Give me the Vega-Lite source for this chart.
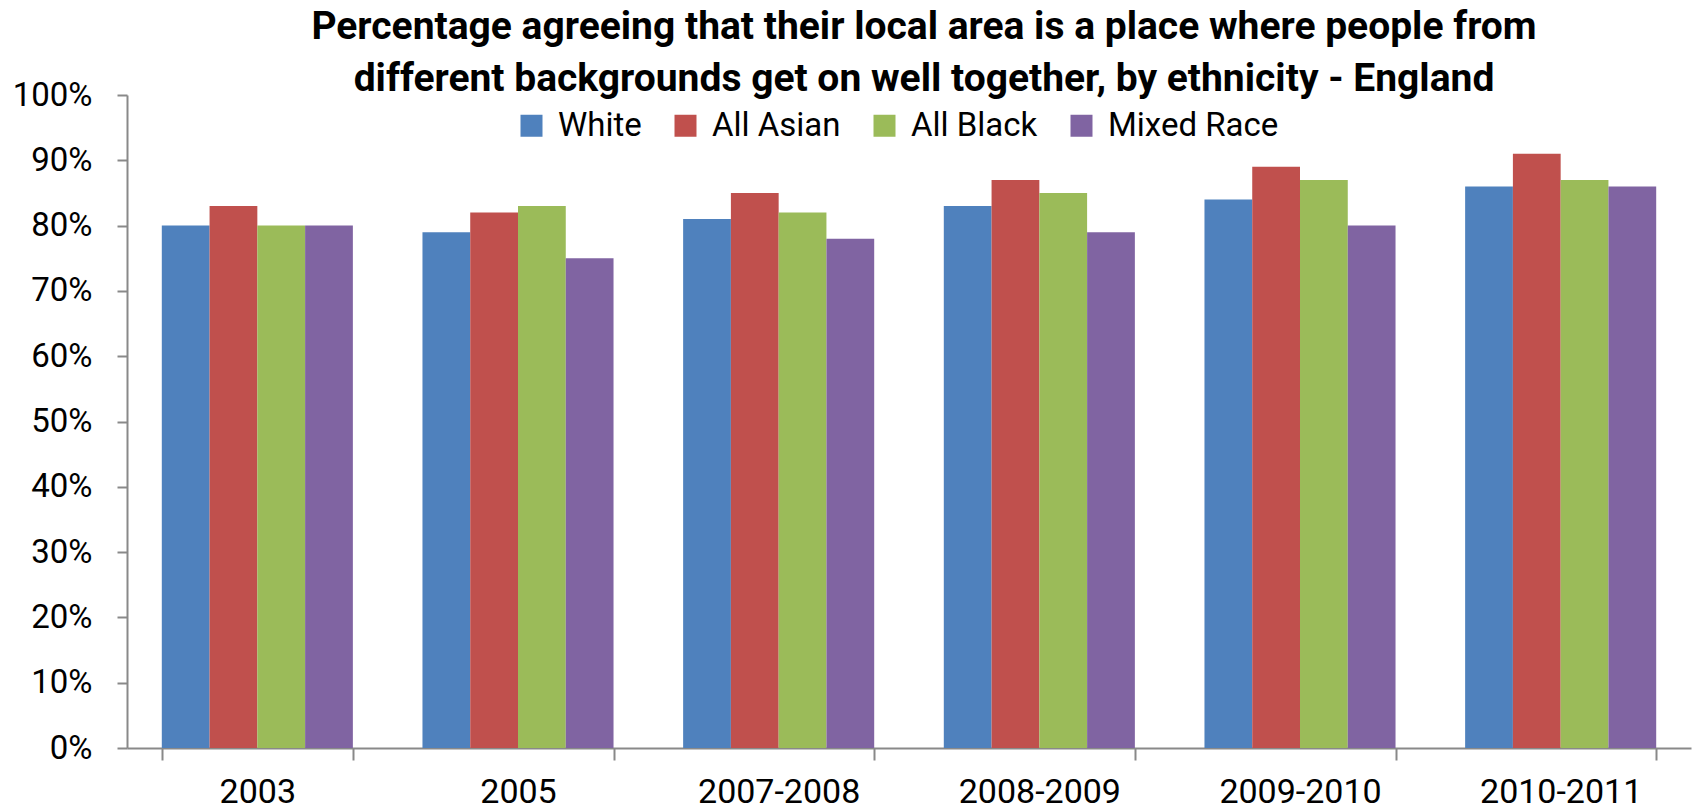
{
  "$schema": "https://vega.github.io/schema/vega-lite/v6.json",
  "autosize": {"type": "none"},
  "padding": {"left": 127, "top": 95, "right": 3, "bottom": 64},
  "width": 1564,
  "height": 653,
  "background": "white",
  "title": {
    "text": ["Percentage agreeing that their local area is a place where people from", "different backgrounds get on well together, by ethnicity - England"],
    "font": "Roboto",
    "fontWeight": "bold",
    "fontSize": 39,
    "lineHeight": 52,
    "color": "#000000",
    "anchor": "middle",
    "frame": "group",
    "dx": 15,
    "dy": 59,
    "offset": 0,
    "baseline": "bottom"
  },
  "data": {
    "values": [
      {"period": "2003", "group": "White", "pct": 0.80},
      {"period": "2003", "group": "All Asian", "pct": 0.83},
      {"period": "2003", "group": "All Black", "pct": 0.80},
      {"period": "2003", "group": "Mixed Race", "pct": 0.80},
      {"period": "2005", "group": "White", "pct": 0.79},
      {"period": "2005", "group": "All Asian", "pct": 0.82},
      {"period": "2005", "group": "All Black", "pct": 0.83},
      {"period": "2005", "group": "Mixed Race", "pct": 0.75},
      {"period": "2007-2008", "group": "White", "pct": 0.81},
      {"period": "2007-2008", "group": "All Asian", "pct": 0.85},
      {"period": "2007-2008", "group": "All Black", "pct": 0.82},
      {"period": "2007-2008", "group": "Mixed Race", "pct": 0.78},
      {"period": "2008-2009", "group": "White", "pct": 0.83},
      {"period": "2008-2009", "group": "All Asian", "pct": 0.87},
      {"period": "2008-2009", "group": "All Black", "pct": 0.85},
      {"period": "2008-2009", "group": "Mixed Race", "pct": 0.79},
      {"period": "2009-2010", "group": "White", "pct": 0.84},
      {"period": "2009-2010", "group": "All Asian", "pct": 0.89},
      {"period": "2009-2010", "group": "All Black", "pct": 0.87},
      {"period": "2009-2010", "group": "Mixed Race", "pct": 0.80},
      {"period": "2010-2011", "group": "White", "pct": 0.86},
      {"period": "2010-2011", "group": "All Asian", "pct": 0.91},
      {"period": "2010-2011", "group": "All Black", "pct": 0.87},
      {"period": "2010-2011", "group": "Mixed Race", "pct": 0.86}
    ]
  },
  "mark": {"type": "bar"},
  "encoding": {
    "x": {
      "field": "period",
      "type": "nominal",
      "sort": null,
      "scale": {"paddingInner": 0.267, "paddingOuter": 0.1335},
      "axis": {
        "title": null,
        "labelAngle": 0,
        "labelFont": "Roboto",
        "labelFontSize": 34,
        "labelColor": "#000000",
        "labelPadding": 15,
        "tickBand": "extent",
        "tickSize": 12,
        "tickColor": "#898989",
        "tickWidth": 2,
        "domainColor": "#898989",
        "domainWidth": 2,
        "grid": false
      }
    },
    "xOffset": {
      "field": "group",
      "type": "nominal",
      "scale": {"domain": ["White", "All Asian", "All Black", "Mixed Race"], "paddingInner": 0, "paddingOuter": 0}
    },
    "y": {
      "field": "pct",
      "type": "quantitative",
      "scale": {"domain": [0, 1], "nice": false},
      "axis": {
        "title": null,
        "format": ".0%",
        "values": [0, 0.1, 0.2, 0.3, 0.4, 0.5, 0.6, 0.7, 0.8, 0.9, 1.0],
        "labelFont": "Roboto",
        "labelFontSize": 33,
        "labelColor": "#000000",
        "labelPadding": 25,
        "tickSize": 10,
        "tickColor": "#898989",
        "tickWidth": 2,
        "domainColor": "#898989",
        "domainWidth": 2,
        "grid": false
      }
    },
    "color": {
      "field": "group",
      "type": "nominal",
      "scale": {
        "domain": ["White", "All Asian", "All Black", "Mixed Race"],
        "range": ["#4F81BD", "#C0504D", "#9BBB59", "#8064A2"]
      },
      "legend": {
        "title": null,
        "orient": "none",
        "direction": "horizontal",
        "legendX": 388,
        "legendY": 14,
        "padding": 0,
        "symbolType": "square",
        "symbolSize": 484,
        "symbolStrokeWidth": 0,
        "symbolOpacity": 1,
        "labelFont": "Roboto",
        "labelFontSize": 33,
        "labelLimit": 400,
        "labelColor": "#000000",
        "labelOffset": 10,
        "columnPadding": 27
      }
    }
  },
  "config": {
    "view": {"stroke": null}
  }
}
